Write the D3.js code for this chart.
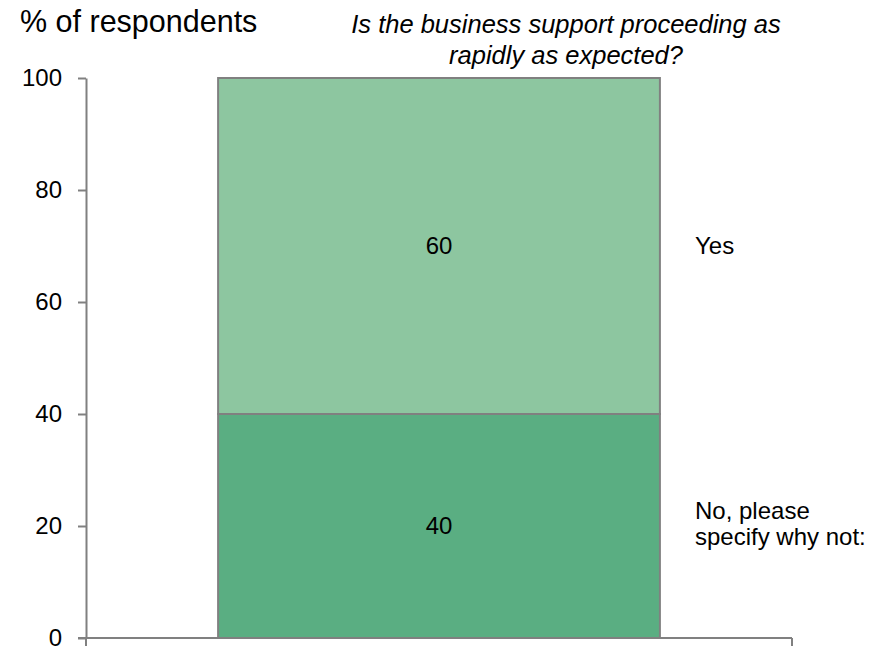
<!DOCTYPE html>
<html>
<head>
<meta charset="utf-8">
<script src="https://cdn.jsdelivr.net/npm/d3@7"></script>
<style>
  html, body { margin: 0; padding: 0; background: #fff; }
  svg { display: block; font-family: "Liberation Sans", Arial, sans-serif; }
</style>
</head>
<body>
<svg id="chart" width="887" height="648"></svg>
<script>
// Survey answers, stacked bottom to top
const categories = [""];
const answers = ["No, please specify why not:", "Yes"];
const answerLines = [["No, please", "specify why not:"], ["Yes"]];
const values = [40, 60];
const colors = ["#5aae82", "#8dc6a0"];
const yTicks = [0, 20, 40, 60, 80, 100];

const svg = d3.select("#chart");
const margin = { left: 86, right: 95, top: 78, bottom: 10 };
const W = 887;
const FONT = "Liberation Sans, Arial, sans-serif";

const x = d3.scaleBand().domain(categories).range([margin.left, W - margin.right]).paddingInner(0).paddingOuter(0.299);
const y = d3.scaleLinear().domain([0, 100]).range([638, margin.top]);

// stacked segments
let acc = 0;
const segs = values.map((v, i) => { const s = { y0: acc, y1: acc + v, v, i }; acc += v; return s; });

const g = svg.append("g");
g.selectAll("rect.seg").data(segs).join("rect")
  .attr("class", "seg")
  .attr("x", x(categories[0]))
  .attr("width", x.bandwidth())
  .attr("y", d => y(d.y1))
  .attr("height", d => y(d.y0) - y(d.y1))
  .attr("fill", d => colors[d.i])
  .attr("stroke", "#808080")
  .attr("stroke-width", 2);

// value labels inside segments
g.selectAll("text.val").data(segs).join("text")
  .attr("class", "val")
  .attr("x", x(categories[0]) + x.bandwidth() / 2)
  .attr("y", d => y((d.y0 + d.y1) / 2))
  .attr("dy", "0.35em")
  .attr("text-anchor", "middle")
  .attr("font-size", 24)
  .attr("fill", "#000")
  .text(d => d.v);

// series labels to the right of the bar
segs.forEach(d => {
  const lines = answerLines[d.i];
  const cy = y((d.y0 + d.y1) / 2);
  const lh = 26;
  const t = g.append("text")
    .attr("x", 695)
    .attr("font-size", 24)
    .attr("fill", "#000");
  lines.forEach((ln, k) => {
    t.append("tspan")
      .attr("x", 695)
      .attr("y", cy + (k - (lines.length - 1) / 2) * lh - (lines.length > 1 ? 2 : 0))
      .attr("dy", "0.35em")
      .text(ln);
  });
});

// y axis
const yAxis = d3.axisLeft(y).tickValues(yTicks).tickSize(8).tickPadding(16).tickSizeOuter(0);
const ya = svg.append("g").attr("transform", `translate(${margin.left},0)`).call(yAxis);
ya.select(".domain").attr("stroke", "#808080").attr("stroke-width", 2);
ya.selectAll(".tick line").attr("stroke", "#808080").attr("stroke-width", 2);
ya.selectAll(".tick text").attr("font-size", 24).attr("fill", "#000").attr("font-family", FONT);

// x axis baseline with end ticks
const xa = svg.append("g");
xa.append("line")
  .attr("x1", margin.left - 8).attr("x2", W - margin.right)
  .attr("y1", y(0)).attr("y2", y(0))
  .attr("stroke", "#808080").attr("stroke-width", 2);
[margin.left, W - margin.right].forEach(px => {
  xa.append("line")
    .attr("x1", px).attr("x2", px)
    .attr("y1", y(0)).attr("y2", y(0) + 8)
    .attr("stroke", "#808080").attr("stroke-width", 2);
});

// axis title
svg.append("text")
  .attr("x", 20).attr("y", 32)
  .attr("font-size", 30.5)
  .attr("fill", "#000")
  .text("% of respondents");

// question title
const title = svg.append("text")
  .attr("text-anchor", "middle")
  .attr("font-size", 25.5)
  .attr("font-style", "italic")
  .attr("fill", "#000");
["Is the business support proceeding as", "rapidly as expected?"].forEach((ln, k) => {
  title.append("tspan").attr("x", 566).attr("y", 33 + k * 31).text(ln);
});
</script>
</body>
</html>
